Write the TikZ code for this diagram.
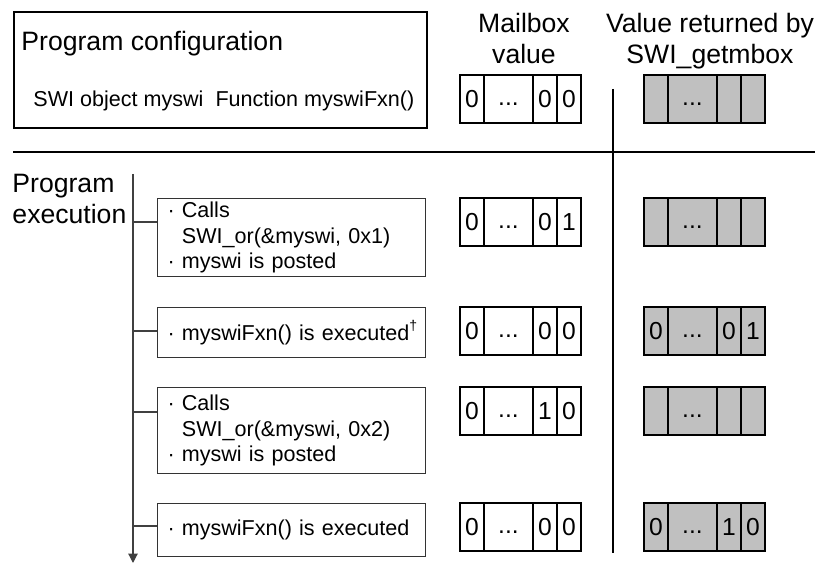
\documentclass[tikz,border=0pt]{standalone}
\usepackage{fontspec}
\setmainfont{Liberation Sans}
\usetikzlibrary{positioning,arrows.meta}

\definecolor{regfill}{HTML}{C0C0C0}
\newcommand{\itm}{\textperiodcentered\ }
\newcommand{\ind}{\phantom{\itm}}
\newcommand{\regdots}{\raisebox{0.08em}{...}}

\tikzset{
  heading/.style={font=\fontsize{11.35}{13.2}\selectfont, inner sep=0pt},
  conftext/.style={font=\fontsize{9.2}{11}\selectfont, inner sep=0pt, anchor=base west},
  confbox/.style={draw, line width=0.8pt, anchor=north west, minimum width=6.195cm, minimum height=1.74cm, inner sep=0pt},
  stepbox/.style={draw=black!80, line width=0.45pt, anchor=north west, text width=3.72cm, inner xsep=0.15cm, inner ysep=0pt, align=left, font=\fontsize{9.2}{11}\selectfont},
  cell/.style={draw, line width=0.8pt, outer sep=0pt, inner sep=0pt, minimum height=0.72cm, minimum width=0.36cm, text height=0.716em, text depth=0pt, font=\fontsize{10.5}{12}\selectfont},
  widecell/.style={cell, minimum width=0.735cm},
  rule/.style={line width=0.8pt},
  timeline/.style={draw=black!75, line width=0.5pt},
}

% one register: name, top left corner, fill, four fields
\newcommand{\regrow}[7]{%
  \node[cell, #3, anchor=north west] (#1a) at (#2) {#4};
  \node[widecell, #3, right=0pt of #1a] (#1b) {#5};
  \node[cell, #3, right=0pt of #1b] (#1c) {#6};
  \node[cell, #3, right=0pt of #1c] (#1d) {#7};
}

\begin{document}
\begin{tikzpicture}[x=1.5cm, y=-1.5cm]
	\useasboundingbox (0,0) rectangle (8.15,5.64);

	% configuration
	\node[confbox] (conf) at (0.13,0.11) {};
	\node[heading, anchor=base west] (conftitle) at (0.21,0.51) {Program configuration};
	\node[conftext] (confobj) at (0.33,1.07) {SWI object myswi\ \ Function myswiFxn()};

	% column headings
	\node[heading, anchor=north, align=center] (mbhead) at (5.24,0.13) {Mailbox\\value};
	\node[heading, anchor=north, align=center] (gethead) at (7.10,0.13) {Value returned by\\SWI\_getmbox};
	\node[heading, anchor=north west, align=left] (exechead) at (0.12,1.74) {Program\\execution};

	% rules
	\coordinate (sepl) at (0.13,1.52);
	\coordinate (sepr) at (8.15,1.52);
	\coordinate (divt) at (6.13,0.89);
	\coordinate (divb) at (6.13,5.53);
	\draw[rule] (sepl) -- (sepr);
	\draw[rule] (divt) -- (divb);

	% steps
	\node[stepbox, minimum height=1.17cm] (step1) at (1.57,1.98) {\itm Calls\\\ind SWI\_or(\&myswi, 0x1)\\\itm myswi is posted};
	\node[stepbox, minimum height=0.75cm] (step2) at (1.57,3.07) {\mbox{\itm myswiFxn() is executed\raisebox{0.45em}{\fontsize{6}{6}\selectfont\textdagger}}};
	\node[stepbox, minimum height=1.29cm] (step3) at (1.57,3.87) {\itm Calls\\\ind SWI\_or(\&myswi, 0x2)\\\itm myswi is posted};
	\node[stepbox, minimum height=0.795cm] (step4) at (1.57,5.03) {\mbox{\itm myswiFxn() is executed}};

	% time line
	\coordinate (tltop) at (1.33,1.74);
	\coordinate (tlend) at (1.33,5.63);
	\draw[timeline, -{Triangle[width=1.4mm, length=1.4mm]}] (tltop) -- (tlend);
	\coordinate (br1) at (1.33,2.22);
	\coordinate (br2) at (1.33,3.31);
	\coordinate (br3) at (1.33,4.12);
	\coordinate (br4) at (1.33,5.26);
	\draw[timeline] (br1) -- (br1 -| step1.west);
	\draw[timeline] (br2) -- (br2 -| step2.west);
	\draw[timeline] (br3) -- (br3 -| step3.west);
	\draw[timeline] (br4) -- (br4 -| step4.west);

	% mailbox values
	\regrow{mb0}{4.60,0.75}{fill=white}{0}{\regdots}{0}{0}
	\regrow{mb1}{4.60,1.98}{fill=white}{0}{\regdots}{0}{1}
	\regrow{mb2}{4.60,3.07}{fill=white}{0}{\regdots}{0}{0}
	\regrow{mb3}{4.60,3.87}{fill=white}{0}{\regdots}{1}{0}
	\regrow{mb4}{4.60,5.03}{fill=white}{0}{\regdots}{0}{0}

	% SWI_getmbox values
	\regrow{gm0}{6.44,0.75}{fill=regfill}{}{\regdots}{}{}
	\regrow{gm1}{6.44,1.98}{fill=regfill}{}{\regdots}{}{}
	\regrow{gm2}{6.44,3.07}{fill=regfill}{0}{\regdots}{0}{1}
	\regrow{gm3}{6.44,3.87}{fill=regfill}{}{\regdots}{}{}
	\regrow{gm4}{6.44,5.03}{fill=regfill}{0}{\regdots}{1}{0}
\end{tikzpicture}
\end{document}
